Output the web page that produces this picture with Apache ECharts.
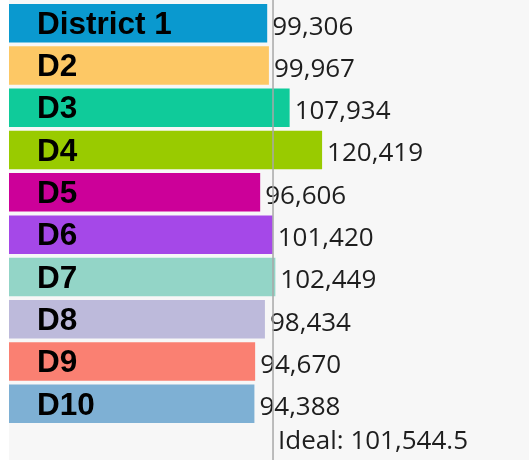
<!DOCTYPE html>
<html>
<head>
<meta charset="utf-8">
<script src="https://cdn.jsdelivr.net/npm/echarts@6/dist/echarts.min.js"></script>
<style>
  html, body { margin: 0; padding: 0; background: #fff; }
  #chart { width: 529px; height: 460px; }
</style>
</head>
<body>
<div id="chart"></div>
<script>
// districts and their populations
const districts = ['District 1', 'D2', 'D3', 'D4', 'D5', 'D6', 'D7', 'D8', 'D9', 'D10']
const population = [99306, 99967, 107934, 120419, 96606, 101420, 102449, 98434, 94670, 94388]
const barColors = ['#0a99cf', '#fdc865', '#0fcb9a', '#99cb00', '#cc0099', '#a548e8', '#93d5c7', '#bdbadb', '#fa8072', '#7eb0d4']
const ideal = 101544.5

const fmt = v => v.toLocaleString('en-US')

const chart = echarts.init(document.getElementById('chart'))

chart.setOption({
  animation: false,
  grid: { left: 9, right: 0, top: 2, bottom: 35 },
  xAxis: {
    type: 'value',
    min: 0,
    max: 200000,
    show: false
  },
  yAxis: {
    type: 'category',
    data: districts,
    inverse: true,
    show: false
  },
  series: [
    {
      name: 'population',
      type: 'bar',
      barCategoryGap: '9%',
      data: population.map((v, i) => ({ value: v, itemStyle: { color: barColors[i] } })),
      label: {
        show: true,
        position: 'insideLeft',
        distance: 28,
        offset: [0, 2],
        formatter: p => districts[p.dataIndex],
        fontFamily: 'Liberation Sans',
        fontWeight: 'bold',
        fontSize: 31.5,
        color: '#000'
      }
    },
    {
      name: 'values',
      type: 'bar',
      barGap: '-100%',
      barCategoryGap: '9%',
      data: population,
      itemStyle: { color: 'transparent' },
      label: {
        show: true,
        position: 'right',
        distance: 5,
        offset: [0, 4],
        formatter: p => fmt(p.value),
        fontFamily: 'Open Sans',
        fontSize: 26,
        color: '#1e1e1e'
      },
      silent: true
    }
  ]
})

// ideal line across the full height, placed with the axis scale
const ix = chart.convertToPixel({ xAxisIndex: 0 }, ideal)
chart.setOption({
  graphic: [
    {
      type: 'rect',
      z: -10,
      shape: { x: 9, y: 0, width: 520, height: 460 },
      style: { fill: '#f7f7f7' }
    },
    {
      type: 'line',
      z: 10,
      shape: { x1: ix, y1: 0, x2: ix, y2: 460 },
      style: { stroke: '#a8a8a8', lineWidth: 1.5 }
    },
    {
      type: 'text',
      z: 10,
      x: ix + 5,
      y: 442,
      style: {
        text: 'Ideal: ' + fmt(ideal),
        fontFamily: 'Open Sans',
        fontSize: 26,
        fill: '#1e1e1e',
        verticalAlign: 'middle'
      }
    }
  ]
})
</script>
</body>
</html>
